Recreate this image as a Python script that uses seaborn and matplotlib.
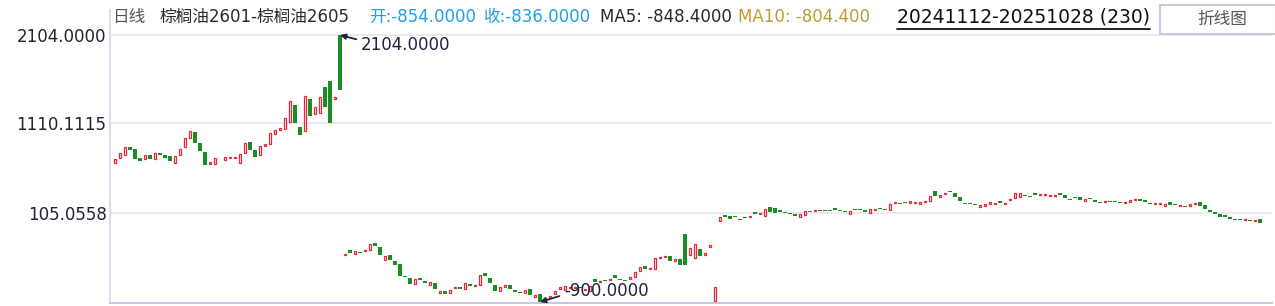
import numpy as np
import pandas as pd
import matplotlib
matplotlib.use("Agg")
import matplotlib.pyplot as plt
import seaborn as sns
from matplotlib.lines import Line2D
from matplotlib.patches import Rectangle

# ---------------- data ----------------
opens = [
    668, 717, 751, 841, 818, 720, 713, 754, 706, 777,
    754, 743, 668, 758, 848, 949, 1013, 889, 788, 656,
    656, 744, 695, 717, 717, 668, 773, 897, 810, 749,
    858, 875, 987, 1032, 1043, 1129, 1317, 1069, 1021, 1384,
    1212, 1223, 1521, 1587, 1388, 2104, -371, -315, -356, -338,
    -326, -311, -239, -284, -424, -371, -438, -472, -608, -630,
    -694, -630, -663, -705, -686, -798, -776, -795, -742, -731,
    -750, -697, -720, -708, -573, -630, -708, -772, -727, -708,
    -765, -789, -795, -753, -840, -810, -872, -851, -810, -750,
    -761, -745, -745, -735, -760, -772, -644, -678, -652, -648,
    -596, -649, -656, -637, -621, -556, -495, -532, -523, -408,
    -390, -382, -433, -416, -135, -376, -410, -303, -376, -284,
    -883, 15, 79, 65, 67, 33, 56, 60, 113, 94,
    71, 169, 158, 135, 112, 101, 90, 60, 83, 123,
    128, 134, 134, 134, 158, 134, 123, 94, 146, 146,
    135, 105, 140, 158, 146, 139, 218, 214, 226, 218,
    218, 206, 229, 240, 349, 285, 319, 349, 327, 282,
    214, 214, 203, 173, 184, 206, 207, 237, 207, 251,
    274, 285, 304, 293, 327, 308, 308, 296, 296, 327,
    304, 259, 282, 282, 240, 271, 248, 226, 229, 237,
    237, 226, 218, 229, 251, 259, 248, 214, 207, 207,
    184, 226, 203, 184, 180, 184, 207, 226, 192, 135,
    113, 90, 79, 57, 34, 34, 26, 23, 15, 34,
]
closes = [
    709, 773, 841, 814, 706, 690, 751, 713, 773, 758,
    724, 687, 740, 818, 945, 1024, 893, 803, 645, 675,
    717, 738, 735, 728, 726, 762, 886, 814, 735, 855,
    876, 998, 1035, 1061, 1167, 1362, 1118, 981, 1418, 1196,
    1291, 1404, 1298, 1118, 1407, 1490, -360, -345, -326, -344,
    -315, -250, -266, -371, -385, -424, -483, -604, -615, -694,
    -641, -649, -686, -675, -750, -776, -810, -765, -731, -753,
    -686, -720, -708, -596, -604, -686, -772, -731, -708, -753,
    -787, -796, -765, -821, -821, -900, -858, -835, -779, -731,
    -720, -731, -730, -742, -748, -716, -669, -667, -659, -641,
    -626, -656, -663, -621, -564, -508, -525, -517, -407, -399,
    -379, -435, -421, -487, -478, -295, -249, -382, -351, -258,
    -733, 53, 60, 38, 61, 27, 50, 68, 94, 102,
    143, 116, 105, 116, 106, 95, 71, 90, 124, 117,
    135, 128, 128, 128, 139, 128, 117, 124, 140, 140,
    116, 147, 147, 150, 140, 203, 226, 207, 218, 237,
    226, 226, 237, 293, 296, 304, 327, 341, 285, 240,
    207, 207, 195, 192, 203, 226, 214, 218, 214, 259,
    327, 327, 296, 285, 308, 316, 316, 304, 304, 308,
    271, 251, 274, 251, 259, 263, 229, 218, 237, 229,
    229, 218, 226, 248, 259, 240, 229, 207, 214, 214,
    203, 195, 195, 192, 173, 203, 214, 184, 150, 116,
    94, 60, 60, 38, 26, 26, 34, 15, 23, -7,
]
ytick_values = [2104.0, 1110.1115, 105.0558]
ytick_labels = ["2104.0000", "1110.1115", "105.0558"]
y_limits = (-907.4, 2385.5)

header_pieces = [
    ("日线", "#555555"),
    ("棕榈油2601-棕榈油2605", "#2a2a2a"),
    ("开:-854.0000", "#1ea0e6"),
    ("收:-836.0000", "#1ea0e6"),
    ("MA5: -848.4000", "#2a2a2a"),
    ("MA10: -804.400", "#c39b32"),
]
header_x = [112, 160, 369, 484, 600, 738]
date_range_text = "20241112-20251028 (230)"
button_text = "折线图"

# ---------------- styling ----------------
sns.set_theme(style="white")
plt.rcParams["font.family"] = ["DejaVu Sans", "Noto Sans CJK SC"]

W, H = 1275, 306
RED = "#e8283a"
GREEN = "#1c8c24"
DARK = "#1f2340"

df = pd.DataFrame({"open": opens, "close": closes})
df["idx"] = np.arange(len(df))
df["up"] = df["close"] >= df["open"]
df["bottom"] = df[["open", "close"]].min(axis=1)
df["height"] = (df["close"] - df["open"]).abs().clip(lower=10)

fig = plt.figure(figsize=(W / 100, H / 100), dpi=100)
ax = fig.add_axes([110 / W, (H - 302.7) / H, (1272 - 110) / W, (302.7 - 10) / H])

up = df[df["up"]]
dn = df[~df["up"]]
ax.bar(dn["idx"], dn["height"], bottom=dn["bottom"], width=0.62,
       color=GREEN, linewidth=0, zorder=3)
ax.bar(up["idx"], up["height"], bottom=up["bottom"], width=0.5,
       facecolor="white", edgecolor=RED, linewidth=0.9, zorder=3)

ax.set_xlim(-1, -1 + 1162 / 5)
ax.set_ylim(*y_limits)
ax.set_xticks([])
ax.set_yticks(ytick_values)
ax.set_yticklabels(ytick_labels, fontsize=12, color="#222233")
ax.tick_params(axis="y", length=0, pad=2.5)
ax.yaxis.grid(True, color="#e6e6f0", linewidth=1.2)
ax.xaxis.grid(False)
for s in ["top", "right"]:
    ax.spines[s].set_visible(False)
ax.spines["left"].set_color("#dcdcec")
ax.spines["left"].set_linewidth(1.5)
ax.spines["bottom"].set_color("#c8c8e0")
ax.spines["bottom"].set_linewidth(1.5)

# max / min annotations
imax = int(np.argmax(np.maximum(df["open"], df["close"])))
vmax = max(df.loc[imax, "open"], df.loc[imax, "close"])
imin = int(np.argmin(np.minimum(df["open"], df["close"])))
vmin = min(df.loc[imin, "open"], df.loc[imin, "close"])
ax.annotate(f"{vmax:.4f}", xy=(imax, vmax), xytext=(21, -10),
            textcoords="offset pixels", ha="left", va="center",
            fontsize=12, color=DARK, zorder=5,
            arrowprops=dict(arrowstyle="-|>", color=DARK, lw=1.3,
                            mutation_scale=8, relpos=(0, 0.75),
                            shrinkA=1, shrinkB=0))
ax.annotate(f"{vmin:.4f}", xy=(imin, vmin), xytext=(24, 11),
            textcoords="offset pixels", ha="left", va="center",
            fontsize=12, color=DARK, zorder=5,
            arrowprops=dict(arrowstyle="-|>", color=DARK, lw=1.3,
                            mutation_scale=8, relpos=(0, 0.3),
                            shrinkA=1, shrinkB=0))

# header
for (txt, col), xp in zip(header_pieces, header_x):
    fig.text(xp / W, 1 - 17 / H, txt, color=col, fontsize=12,
             ha="left", va="center")
fig.text(897 / W, 1 - 17 / H, date_range_text, color="#111111",
         fontsize=13.5, ha="left", va="center")
fig.add_artist(Line2D([897 / W, 1150 / W], [1 - 28.5 / H, 1 - 28.5 / H],
                      color="#111111", lw=1.3, transform=fig.transFigure))
fig.add_artist(Rectangle((1160 / W, 1 - 34 / H), 116 / W, 29 / H,
                         transform=fig.transFigure, facecolor="white",
                         edgecolor="#c8c8e0", lw=1.5))
fig.text(1222 / W, 1 - 19 / H, button_text, color="#555555", fontsize=12,
         ha="center", va="center")

fig.savefig("out.png", dpi=100)
